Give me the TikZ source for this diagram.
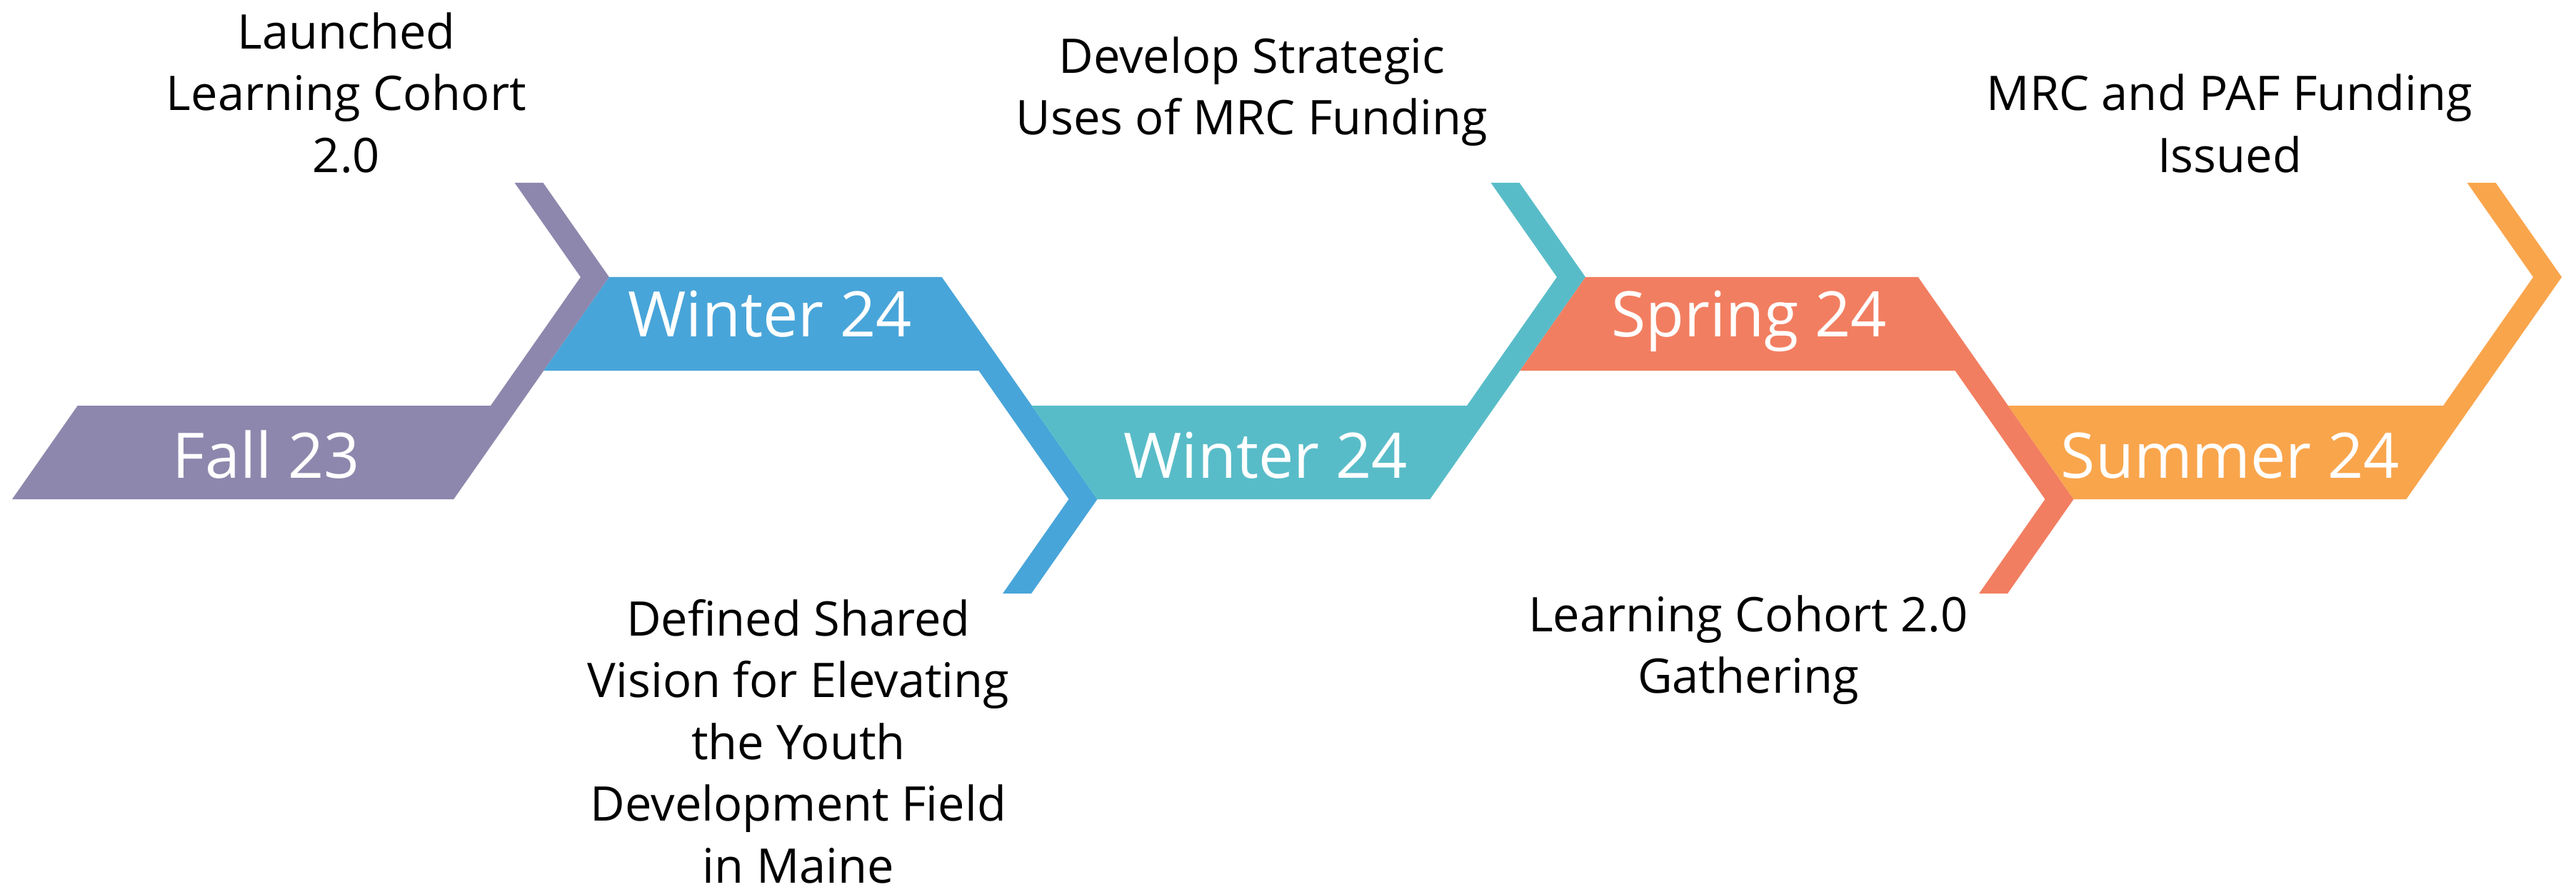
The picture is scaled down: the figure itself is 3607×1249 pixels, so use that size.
\documentclass[tikz,border=0pt]{standalone}
\usepackage{fontspec}
\setmainfont{Open Sans}
\usetikzlibrary{positioning}
\definecolor{fallcol}{HTML}{8E87AD}
\definecolor{wintcol}{HTML}{48A5D9}
\definecolor{wintbcol}{HTML}{58BCC8}
\definecolor{sprcol}{HTML}{F27E61}
\definecolor{sumcol}{HTML}{F9A54C}
\tikzset{
    bandsty/.style={draw=none},
    labelsty/.style={text=white,inner sep=0pt,anchor=base,font=\fontsize{25}{30}\selectfont},
    notesty/.style={align=center,inner sep=0pt,anchor=center,font=\fontsize{19}{24.6}\selectfont},
}

\begin{document}
\begin{tikzpicture}[x=0.01cm,y=-0.01cm]
\useasboundingbox (0,0) rectangle (3607,1249);

% chevron bands, left to right
\fill[bandsty,fallcol] (17,699) -- (108.7,568) -- (687,568) -- (813,388) -- (720.6,256)
    -- (760.6,256) -- (853,388) -- (635.3,699) -- cycle;
\fill[bandsty,wintcol] (853,388) -- (1318.8,388) -- (1536.5,699) -- (1444.1,831) -- (1404.1,831)
    -- (1496.5,699) -- (1370.5,519) -- (761.3,519) -- cycle;
\fill[bandsty,wintbcol] (1444.8,568) -- (2054,568) -- (2180,388) -- (2087.6,256) -- (2127.6,256)
    -- (2220,388) -- (2002.3,699) -- (1536.5,699) -- cycle;
\fill[bandsty,sprcol] (2220,388) -- (2685.8,388) -- (2903.5,699) -- (2811.1,831) -- (2771.1,831)
    -- (2863.5,699) -- (2737.5,519) -- (2128.3,519) -- cycle;
\fill[bandsty,sumcol] (2811.8,568) -- (3421,568) -- (3547,388) -- (3454.6,256) -- (3494.6,256)
    -- (3587,388) -- (3369.3,699) -- (2903.5,699) -- cycle;

% season labels
\node[labelsty] (fall) at (373,669) {Fall 23};
\node[labelsty] (wint) at (1078,471) {Winter 24};
\node[labelsty] (wintb) at (1772,669) {Winter 24};
\node[labelsty] (spr) at (2449,471) {Spring 24};
\node[labelsty] (sum) at (3123,669) {Summer 24};

% milestones
\node[notesty] (launch) at (485,130) {Launched\\Learning Cohort\\2.0};
\node[notesty] (vision) at (1118,1038) {Defined Shared\\Vision for Elevating\\the Youth\\Development Field\\in Maine};
\node[notesty] (uses) at (1753,128) {Develop Strategic\\Uses of MRC Funding};
\node[notesty] (gather) at (2448,910) {Learning Cohort 2.0\\Gathering};
\node[notesty] (issued) at (3122,173) {MRC and PAF Funding\\Issued};
\end{tikzpicture}
\end{document}
